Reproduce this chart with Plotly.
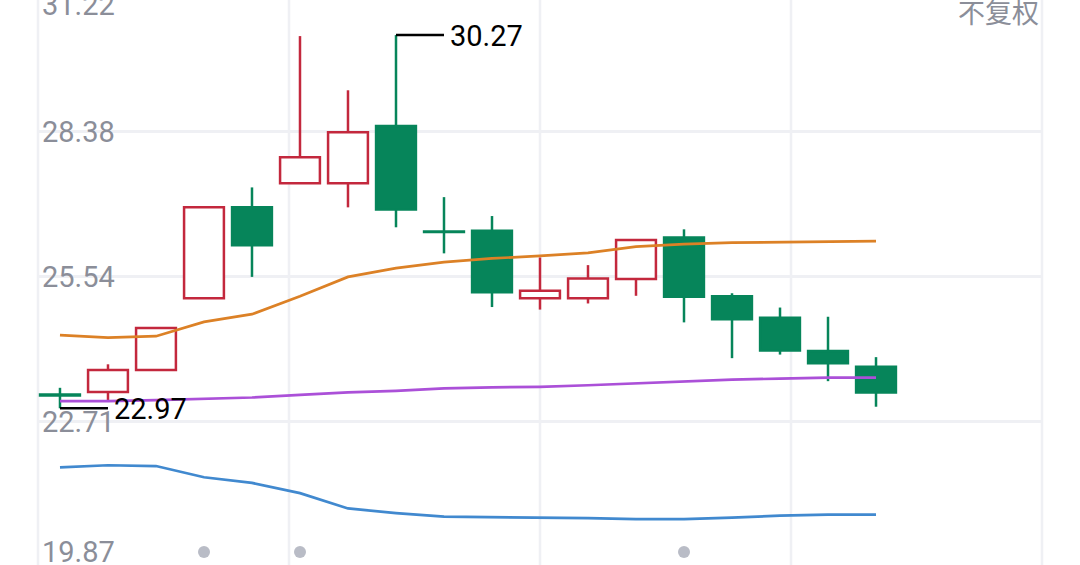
"""Candlestick chart with moving averages, styled like a mobile quote view."""

import plotly.graph_objects as go

# candle data (index positions 0..17)
opens = [23.24, 23.29, 23.72, 25.12, 26.90, 27.37, 27.37, 28.49, 26.43, 26.44,
         25.12, 25.12, 25.50, 26.31, 25.16, 24.74, 24.09, 23.78]
highs = [23.37, 23.83, 24.54, 26.90, 27.29, 30.25, 29.19, 30.27, 27.10, 26.73,
         25.92, 25.77, 26.26, 26.47, 25.22, 24.94, 24.76, 23.97]
lows = [22.97, 23.13, 23.72, 25.12, 25.54, 27.37, 26.90, 26.51, 26.00, 24.95,
        24.90, 25.02, 25.17, 24.65, 23.95, 24.02, 23.50, 23.00]
closes = [23.22, 23.72, 24.54, 26.90, 26.16, 27.88, 28.37, 26.86, 26.42, 25.24,
          25.27, 25.51, 26.26, 25.15, 24.71, 24.10, 23.85, 23.28]

ma_orange = [24.40, 24.35, 24.38, 24.66, 24.81, 25.16, 25.54, 25.71, 25.83, 25.90,
             25.95, 26.01, 26.13, 26.18, 26.21, 26.225, 26.235, 26.24]
ma_purple = [23.11, 23.11, 23.13, 23.15, 23.18, 23.23, 23.28, 23.31, 23.36, 23.38,
             23.39, 23.42, 23.46, 23.49, 23.53, 23.55, 23.57, 23.57]
ma_blue = [21.815, 21.855, 21.84, 21.62, 21.51, 21.31, 21.01, 20.92, 20.85, 20.84,
           20.84, 20.82, 20.80, 20.80, 20.83, 20.87, 20.89, 20.89]

tick_values = [31.22, 28.38, 25.54, 22.71, 19.87]
marker_idx = [3, 5, 13]
price_mode_label = '不复权'

RED = '#c3283d'
GREEN = '#06855a'
GRID = '#eff0f4'
LABEL_GRAY = '#8b8e99'
Y_RANGE = [19.904, 30.956]
X_RANGE = [-0.458, 20.458]

idx = list(range(len(opens)))
up = [c >= o for o, c in zip(opens, closes)]

fig = go.Figure()

# wicks
def _wicks(flag):
    xs, ys = [], []
    for i in idx:
        if up[i] != flag:
            continue
        top = max(opens[i], closes[i])
        bot = min(opens[i], closes[i])
        xs += [i, i, None, i, i, None]
        ys += [highs[i], top, None, bot, lows[i], None]
    return xs, ys

for flag, color in ((True, RED), (False, GREEN)):
    wx, wy = _wicks(flag)
    fig.add_trace(go.Scatter(x=wx, y=wy, mode='lines',
                             line=dict(color=color, width=2.5), hoverinfo='skip'))

# bodies
for flag, color, fill in ((True, RED, 'white'), (False, GREEN, GREEN)):
    bx = [i for i in idx if up[i] == flag]
    base = [min(opens[i], closes[i]) for i in bx]
    height = [max(abs(closes[i] - opens[i]), 0.01) for i in bx]
    fig.add_trace(go.Bar(x=bx, y=height, base=base, width=0.83,
                         marker=dict(color=fill, line=dict(color=color, width=2.5))))

for series, color in ((ma_orange, '#dc8126'), (ma_purple, '#ab50d8'), (ma_blue, '#4189cf')):
    fig.add_trace(go.Scatter(x=idx, y=series, mode='lines',
                             line=dict(color=color, width=2.7), hoverinfo='skip'))

# gray markers near the bottom
fig.add_trace(go.Scatter(x=marker_idx, y=[20.159] * len(marker_idx), mode='markers',
                         marker=dict(color='#b9bcc6', size=12), hoverinfo='skip'))

# max / min callouts
hi_i = highs.index(max(highs))
lo_i = lows.index(min(lows))
for i, val in ((hi_i, highs[hi_i]), (lo_i, lows[lo_i])):
    fig.add_trace(go.Scatter(x=[i, i + 1], y=[val, val], mode='lines',
                             line=dict(color='black', width=2.5), hoverinfo='skip'))
    fig.add_annotation(x=i + 1, y=val, xref='x', yref='y', text=f'{val:.2f}',
                       showarrow=False, xanchor='left', yanchor='middle', xshift=4,
                       yshift=-1, font=dict(family='Roboto', size=29, color='black'))

# axis labels inside the plot
for k, v in enumerate(tick_values):
    if k == 0:
        pos = dict(yref='paper', y=1, yshift=-5)
    elif k == len(tick_values) - 1:
        pos = dict(yref='paper', y=0, yshift=13)
    else:
        pos = dict(yref='y', y=v)
    fig.add_annotation(xref='paper', x=0, xanchor='left', yanchor='middle', xshift=2,
                       text=f'{v:.2f}', showarrow=False,
                       font=dict(family='Roboto', size=29, color=LABEL_GRAY), **pos)

fig.add_annotation(xref='paper', yref='paper', x=1, y=1, xanchor='right', yanchor='middle',
                   xshift=-1, yshift=-11, text=price_mode_label, showarrow=False,
                   font=dict(family='Noto Sans CJK SC', size=27, color=LABEL_GRAY))

# vertical grid lines
for frac in (0, 0.25, 0.5, 0.75, 1):
    fig.add_shape(type='line', xref='paper', yref='paper', x0=frac, x1=frac, y0=0, y1=1,
                  line=dict(color=GRID, width=2.5), layer='below')

fig.update_layout(
    width=1080, height=565,
    margin=dict(l=38, r=38, t=0, b=0),
    paper_bgcolor='white', plot_bgcolor='white',
    showlegend=False, barmode='overlay',
    xaxis=dict(range=X_RANGE, showgrid=False, zeroline=False, showticklabels=False,
               fixedrange=True),
    yaxis=dict(range=Y_RANGE, tickvals=tick_values, showgrid=True, gridcolor=GRID,
               gridwidth=2.5, zeroline=False, showticklabels=False, fixedrange=True),
)

fig.write_html('out.html', config={'displayModeBar': False},
               post_script="document.body.style.margin='0';document.body.style.overflow='hidden';")
